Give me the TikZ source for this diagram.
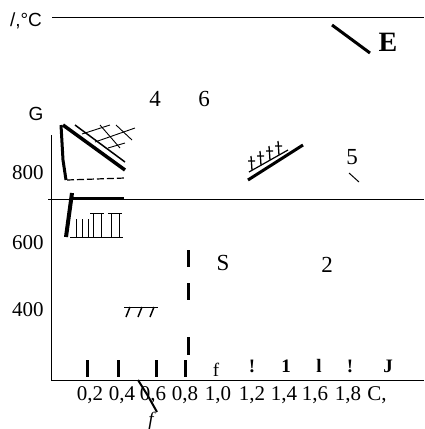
\documentclass[tikz,border=0pt]{standalone}
\usepackage{fontspec}
\setmainfont{Liberation Serif}
\setsansfont{Liberation Sans}
\usetikzlibrary{positioning}

\begin{document}
\begin{tikzpicture}[x=1pt,y=-1pt,
  testo/.style={inner sep=0pt,font=\fontsize{21}{23}\selectfont},
  etich/.style={inner sep=0pt,font=\sffamily\fontsize{19}{21}\selectfont},
  segno/.style={line width=3pt},
  tratto/.style={line width=1pt}]
\useasboundingbox (0,0) rectangle (424,429);

% --- Assi e linee orizzontali
\draw[line width=0.9pt] (52,17) -- (424,17);
\draw[line width=0.9pt] (51,135) -- (51,380) -- (424,380);
\draw[line width=0.9pt] (48,199) -- (424,199);

% --- Etichette degli assi
\node[etich] (unita) at (26,21) {/,°C};
\node[etich] (g) at (36,114) {G};
\node[testo] (y800) at (28,173) {800};
\node[testo] (y600) at (28,243) {600};
\node[testo] (y400) at (28,310) {400};
\foreach \x/\t [count=\i] in {90/{0,2},122/{0,4},153/{0,6},185/{0,8},218/{1,0},252/{1,2},284/{1,4},315/{1,6},348/{1,8},377/{C,}}
  \node[testo] (xl\i) at (\x,395) {\t};

% --- Campi e numeri
\node[testo,font=\bfseries\fontsize{28}{30}\selectfont] (e) at (388,42) {E};
\draw[line width=3pt] (332,25) -- (370,53);
\node[testo,font=\fontsize{23}{25}\selectfont] (n4) at (155,99) {4};
\node[testo,font=\fontsize{23}{25}\selectfont] (n6) at (204,99) {6};
\node[testo,font=\fontsize{23}{25}\selectfont] (n5) at (352,157) {5};
\draw[tratto] (349,173) -- (359,182);
\node[testo,font=\fontsize{23}{25}\selectfont] (s) at (223,263) {S};
\node[testo,font=\fontsize{23}{25}\selectfont] (n2) at (327,265) {2};

% --- Triangolo in alto a sinistra
\draw[line width=3pt] (61,125) -- (63,160) -- (66,180);
\draw[line width=3.5pt] (63,125) -- (125,170);
\draw[line width=1.5pt] (75,125) -- (125,162);
\draw[line width=1.2pt,dash pattern=on 7pt off 3pt] (67,180) -- (125,178);
\foreach \a/\b in {{(82,134)}/{(110,125)},{(95,142)}/{(135,128)},{(108,148)}/{(125,143)},{(100,125)}/{(120,148)},{(116,125)}/{(132,140)}}
  \draw[line width=0.9pt] \a -- \b;

% --- Figura sotto la linea a 720
\draw[line width=2.5pt] (72,198) -- (124,198);
\draw[line width=4pt] (72,193) -- (69,215) -- (66,237);
\draw[tratto] (70,237) -- (123,237);
\draw[tratto] (76,219) -- (76,237) (82,219) -- (82,237) (88,219) -- (88,237);
\foreach \x in {90,108}
  \draw[tratto] (\x,213) -- (\x+14,213) (\x+3,213) -- (\x+3,237) (\x+11,213) -- (\x+11,237);

% --- Segmento a destra
\draw[line width=3pt] (248,180) -- (303,145);
\draw[line width=1.2pt] (249,172) -- (288,150);
\foreach \x/\y in {252/170,261/165,270/160,279/155}
  \draw[line width=1.3pt] (\x,\y) -- (\x-1,\y-14) (\x-4,\y-9) -- (\x+3,\y-9);

% --- Tratti a 400
\draw[tratto] (124,307) -- (158,307);
\foreach \x in {130,142,154}
  \draw[line width=1.4pt] (\x,307) -- (\x-4,317);

% --- Linea tratteggiata a 0,8
\foreach \ya/\yb in {250/267,283/300,337/355}
  \draw[line width=3pt] (188,\ya) -- (188,\yb);

% --- Segni sull'asse
\foreach \x in {87,118,156,185}
  \draw[segno] (\x,360) -- (\x,377);
\node[testo,font=\fontsize{19}{21}\selectfont] (mf) at (216,370) {f};
\foreach \x/\t [count=\i] in {252/!,286/1,319/l,350/!,388/J}
  \node[testo,font=\bfseries\fontsize{19}{21}\selectfont] (m\i) at (\x,366) {\t};

% --- f sotto 0,6
\draw[line width=2pt] (138,380) -- (148,396) -- (157,412);
\node[testo,font=\itshape\fontsize{19}{21}\selectfont] (fcorsivo) at (151,421) {f};

\end{tikzpicture}
\end{document}
